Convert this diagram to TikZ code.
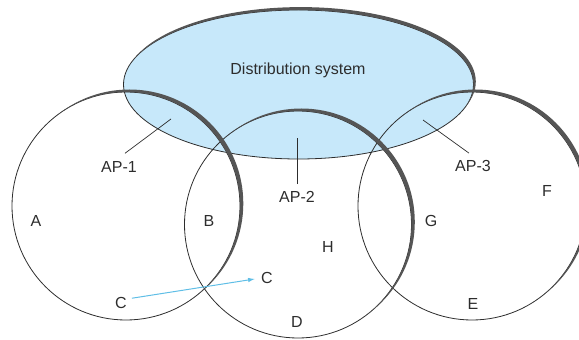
\documentclass[tikz,border=0pt]{standalone}
\usepackage{fontspec}
\setmainfont{Liberation Sans}
\usetikzlibrary{shapes.geometric, arrows.meta, positioning}
\usepackage{xcolor}
\definecolor{dsblue}{RGB}{199,232,250}
\definecolor{rimgray}{RGB}{85,85,85}
\definecolor{linegray}{RGB}{45,45,45}
\definecolor{arrowblue}{RGB}{95,190,230}

\begin{document}
\begin{tikzpicture}[
  x=1pt, y=1pt,
  bss/.style={circle, draw=linegray, line width=0.8pt, minimum size=228pt, inner sep=0pt, outer sep=0pt},
  dsys/.style={ellipse, draw=linegray, line width=0.8pt, fill=dsblue, minimum width=350pt, minimum height=149pt, inner sep=0pt, outer sep=0pt},
  lbl/.style={inner sep=0pt, font=\fontsize{16}{18}\selectfont, text=linegray},
  aplink/.style={draw=linegray, line width=0.7pt},
  rim/.style={fill=rimgray},
  >={Latex[length=7pt, width=4.5pt]}
]
\useasboundingbox (0,0) rectangle (579,340);

% distribution system
\node[dsys] (ds) at (298.5,255.5) {};

% the three cells
\node[bss] (bss1) at (126,134) {};
\node[bss, minimum size=227pt] (bss2) at (298,115.5) {};
\node[bss] (bss3) at (472,134) {};

% rim shading (outside each outline only)
\foreach \c/\r in {bss1/114, bss2/113.5, bss3/114} {
  \begin{scope}[even odd rule]
    \clip (-50,-50) rectangle (650,400) (\c.center) circle [radius=\r];
    \fill[rim] ([shift={(3.3,2.5)}]\c.center) circle [radius=\r];
  \end{scope}
}
\begin{scope}[even odd rule]
  \clip (-50,-50) rectangle (650,400) (ds.center) ellipse [x radius=175, y radius=74.5];
  \fill[rim] ([shift={(2.3,2.9)}]ds.center) ellipse [x radius=175, y radius=74.5];
\end{scope}

\node[lbl] (dstext) at (298,270) {Distribution system};

% access points
\node[lbl] (ap1) at (119,173) {AP-1};
\node[lbl] (ap2) at (297,143) {AP-2};
\node[lbl] (ap3) at (473,174) {AP-3};
\coordinate (ap1in) at (171,221);
\coordinate (ap2in) at (297,202);
\coordinate (ap3in) at (423,220);
\draw[aplink] ([shift={(6pt,8pt)}]ap1.north) -- (ap1in);
\draw[aplink] ([yshift=7pt]ap2.north) -- (ap2in);
\draw[aplink] ([shift={(-4pt,7pt)}]ap3.north) -- (ap3in);

% stations
\node[lbl] (sa) at (36,119) {A};
\node[lbl] (sb) at (209,119) {B};
\node[lbl] (sg) at (431,119) {G};
\node[lbl] (sf) at (547,149) {F};
\node[lbl] (sh) at (328,93) {H};
\node[lbl] (cr) at (267,62) {C};
\node[lbl] (cl) at (121,37) {C};
\node[lbl] (se) at (473,36) {E};
\node[lbl] (sd) at (297,18) {D};

\draw[->, arrowblue, line width=1pt, shorten <=5pt, shorten >=6pt] ([yshift=4pt]cl.east) -- (cr.west);
\end{tikzpicture}
\end{document}
